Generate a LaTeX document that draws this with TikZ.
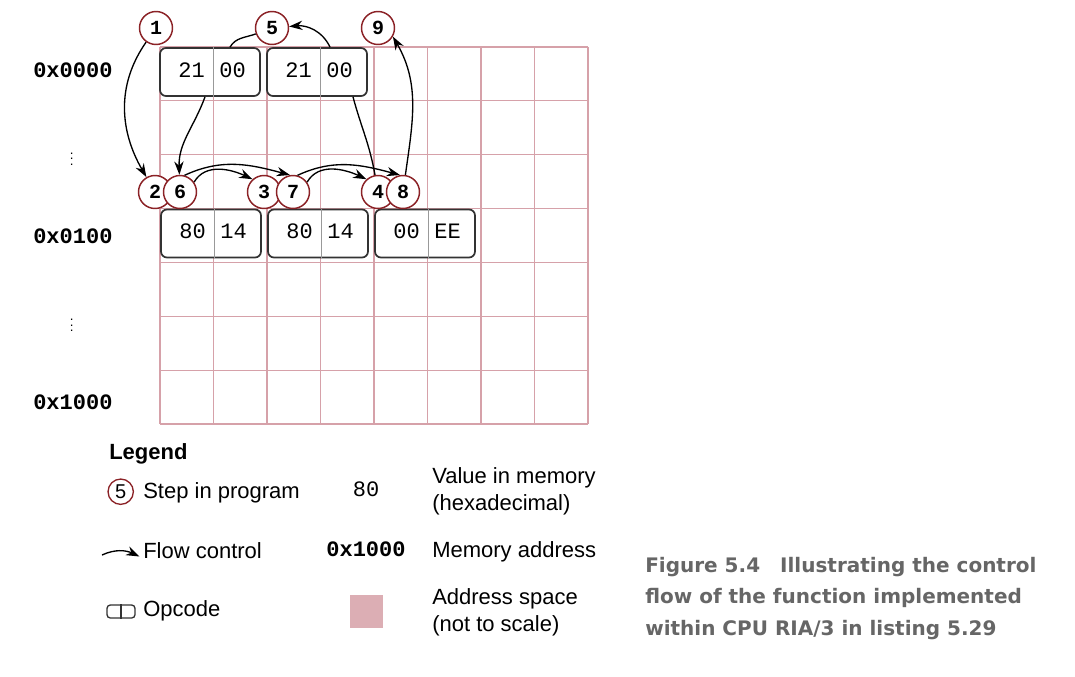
\documentclass[tikz,border=0pt]{standalone}
\usepackage{fontspec}
\setmainfont{Liberation Sans}
\setmonofont{Liberation Mono}
\newfontfamily\captionfont{DejaVu Sans}
\usetikzlibrary{arrows.meta}
\definecolor{gridred}{HTML}{D6A1A9}
\definecolor{spacepink}{HTML}{DCAEB4}
\definecolor{stepred}{HTML}{8B2226}
\definecolor{captiongray}{HTML}{666666}

\begin{document}
\begin{tikzpicture}[x=0.75pt, y=0.75pt,
  gridline/.style={gridred, line width=0.9pt},
  opbox/.style={draw=black!80, line width=1.3pt, rounded corners=4.5pt, fill=white, minimum width=75pt, minimum height=36pt, inner sep=0pt},
  divline/.style={black!40, line width=0.9pt},
  byte/.style={inner sep=0pt, font=\fontsize{16.5}{18}\ttfamily},
  addr/.style={anchor=west, inner sep=0pt, font=\fontsize{16.5}{18}\ttfamily\bfseries},
  stepnum/.style={circle, draw=stepred, line width=1.1pt, fill=white, minimum size=24.75pt, inner sep=0pt, font=\fontsize{15}{15}\ttfamily\bfseries},
  flow/.style={-{Stealth[length=10pt, width=7pt]}, line width=1pt},
  link/.style={line width=1pt},
  legtext/.style={anchor=base west, inner sep=0pt, font=\fontsize{16.5}{19.9}\selectfont},
  captext/.style={anchor=base west, inner sep=0pt, text=captiongray, font=\fontsize{15}{15}\captionfont\bfseries}]

\useasboundingbox (0,0) rectangle (1075,-676);

\foreach \i in {0,...,8}
  \draw [gridline] (160+53.5*\i,-47) -- (160+53.5*\i,-424);
\foreach \j in {0,...,7}
  \draw [gridline] (160,-47-53.86*\j) -- (588,-47-53.86*\j);

\node [addr] (a0000) at (33,-70) {0x0000};
\node (dots1) at (71.7,-155) {$\vdots$};
\node [addr] (a0100) at (33,-236.5) {0x0100};
\node (dots2) at (71.7,-321.5) {$\vdots$};
\node [addr] (a1000) at (33,-402.5) {0x1000};

\node [opbox] (op1) at (210,-72) {};
\draw [divline] ([xshift=40.5pt]op1.north west) -- ([xshift=40.5pt]op1.south west);
\node [byte, anchor=east] (op1hi) at ([xshift=34.5pt,yshift=1.5pt]op1.west) {21};
\node [byte, anchor=west] (op1lo) at ([xshift=45pt,yshift=1.5pt]op1.west) {00};
\node [opbox] (op2) at (317,-72) {};
\draw [divline] ([xshift=40.5pt]op2.north west) -- ([xshift=40.5pt]op2.south west);
\node [byte, anchor=east] (op2hi) at ([xshift=34.5pt,yshift=1.5pt]op2.west) {21};
\node [byte, anchor=west] (op2lo) at ([xshift=45pt,yshift=1.5pt]op2.west) {00};
\node [opbox] (op3) at (211,-233.5) {};
\draw [divline] ([xshift=40.5pt]op3.north west) -- ([xshift=40.5pt]op3.south west);
\node [byte, anchor=east] (op3hi) at ([xshift=34.5pt,yshift=1.5pt]op3.west) {80};
\node [byte, anchor=west] (op3lo) at ([xshift=45pt,yshift=1.5pt]op3.west) {14};
\node [opbox] (op4) at (318,-233.5) {};
\draw [divline] ([xshift=40.5pt]op4.north west) -- ([xshift=40.5pt]op4.south west);
\node [byte, anchor=east] (op4hi) at ([xshift=34.5pt,yshift=1.5pt]op4.west) {80};
\node [byte, anchor=west] (op4lo) at ([xshift=45pt,yshift=1.5pt]op4.west) {14};
\node [opbox] (op5) at (425,-233.5) {};
\draw [divline] ([xshift=40.5pt]op5.north west) -- ([xshift=40.5pt]op5.south west);
\node [byte, anchor=east] (op5hi) at ([xshift=34.5pt,yshift=1.5pt]op5.west) {00};
\node [byte, anchor=west] (op5lo) at ([xshift=45pt,yshift=1.5pt]op5.west) {EE};

\node [stepnum] (s1) at (156,-28) {1};
\node [stepnum] (s5) at (272,-28) {5};
\node [stepnum] (s9) at (378,-28) {9};
\node [stepnum] (s2) at (155,-192) {2};
\node [stepnum] (s6) at (180,-192) {6};
\node [stepnum] (s3) at (264,-192) {3};
\node [stepnum] (s7) at (293,-192) {7};
\node [stepnum] (s4) at (378,-192) {4};
\node [stepnum] (s8) at (403,-192) {8};

\draw [flow] (s1) to[out=235, in=120] (s2);
\draw [flow] (s6.35) to[out=60, in=155] (s3.132);
\draw [flow] (s7.35) to[out=60, in=155] (s4.132);
\draw [link] (s4) to[out=100, in=-75] ([xshift=27pt]op2.south);
\draw [link] ([xshift=15pt]op1.north) to[out=60, in=200] (s5);
\draw [flow] ([xshift=9.75pt]op2.north) to[out=115, in=5] (s5);
\draw [flow] ([xshift=-3.75pt]op1.south) to[out=250, in=92] (s6);
\draw [flow] (s6.75) to[out=25, in=165] (s7.100);
\draw [flow] (s7.75) to[out=25, in=165] (s8.100);
\draw [flow] (s8) to[out=82, in=-60] (s9.-30);

\node [legtext, font=\fontsize{16.5}{19.9}\selectfont\bfseries] (legend) at (109,-459.3) {Legend};
\node [circle, draw=stepred, line width=1pt, minimum size=19pt, inner sep=0pt, font=\fontsize{15}{15}\selectfont] (legstep) at (120.7,-491.7) {5};
\node [legtext] (legsteptxt) at (143,-498.3) {Step in program};
\coordinate (flowA) at (102,-555);
\coordinate (flowB) at (139.5,-556.5);
\draw [flow] (flowA) to[out=25, in=155] (flowB);
\node [legtext] (legflowtxt) at (143,-558.3) {Flow control};
\node [opbox, minimum width=21pt, minimum height=9.75pt, rounded corners=2.5pt, line width=1pt] (legop) at (121,-611.5) {};
\draw [link, black!80] (legop.north) -- (legop.south);
\node [legtext] (legoptxt) at (143,-616.7) {Opcode};

\node [byte, anchor=base] (legval) at (366,-496.7) {80};
\node [addr, anchor=base] (legaddr) at (366,-556.7) {0x1000};
\node [fill=spacepink, minimum size=24.75pt, inner sep=0pt] (legspace) at (366.5,-611.5) {};
\node [anchor=north west, inner sep=0pt, align=left, font=\fontsize{16.5}{19.9}\selectfont] (legvaltxt) at (432,-467.5) {Value in memory\\(hexadecimal)};
\node [legtext] (legaddrtxt) at (432,-557.3) {Memory address};
\node [anchor=north west, inner sep=0pt, align=left, font=\fontsize{16.5}{19.9}\selectfont] (legspacetxt) at (432,-588.5) {Address space\\(not to scale)};

\node [captext] (cap1) at (645,-572.3) {Figure 5.4\quad Illustrating the control};
\node [captext] (cap2) at (645,-603.5) {flow of the function implemented};
\node [captext] (cap3) at (645,-635) {within CPU RIA/3 in listing 5.29};

\end{tikzpicture}
\end{document}
